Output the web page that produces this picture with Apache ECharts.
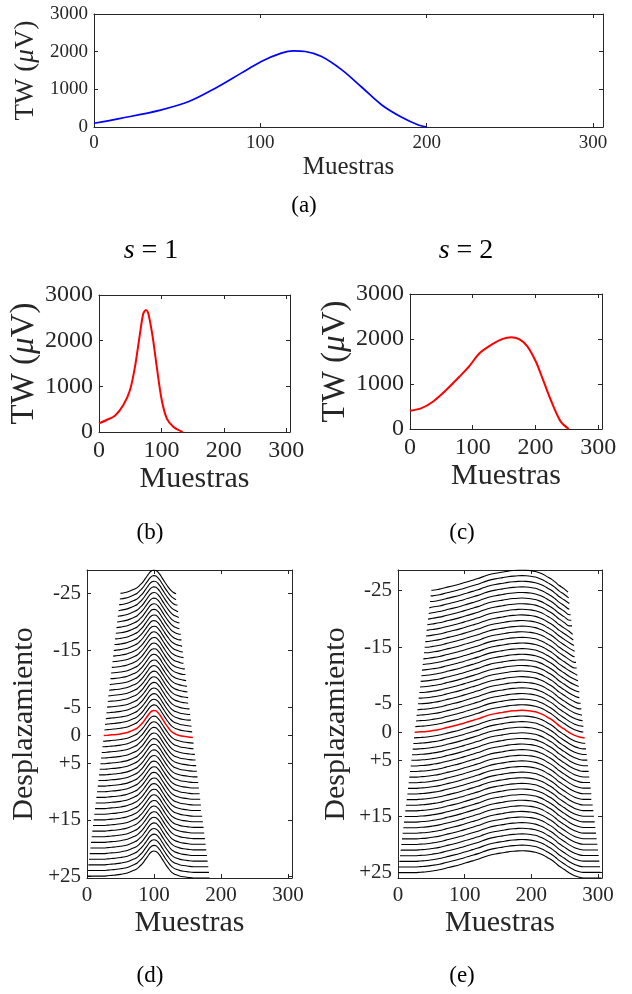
<!DOCTYPE html>
<html><head><meta charset="utf-8">
<script src="https://cdn.jsdelivr.net/npm/echarts@6/dist/echarts.min.js"></script>
<style>html,body{margin:0;padding:0;background:#fff}#c{width:632px;height:994px}</style>
</head><body><div id="c"></div>
<script>
// ---------- data ----------
// (a) original TW signal
const aX = [0,16,40,57,74,88.5,100.6,112.6,120,127,136.8,149,161,173,185,195,200];
const aY = [100,230,450,675,1055,1430,1740,1960,2023,2005,1872,1517,1055,585,257,53,0];
// (b) s = 1
const bX = [0,12.3,25.6,39,49.7,57.7,65.7,71,75.3,79,86,92.5,100.5,108.5,119,134];
const bY = [190,263,357,590,919,1430,2160,2597,2670,2597,2085,1430,700,300,116,0];
// (c) s = 2
const cX = [0,18.5,36.9,58,79,94.9,110.8,131.9,147.7,160.9,174,187.3,200.5,211,224.2,240,253];
const cY = [405,465,612,871,1166,1404,1685,1891,2002,2040,1995,1832,1499,1131,650,169,0];
// displacements (one trace per value)
const shifts = [-25,-24,-23,-22,-21,-20,-19,-18,-17,-16,-15,-14,-13,-12,-11,-10,-9,-8,-7,-6,-5,-4,-3,-2,-1,0,1,2,3,4,5,6,7,8,9,10,11,12,13,14,15,16,17,18,19,20,21,22,23,24,25];
// (d) trace profile (height above its level, in displacement units)
const dProfX = [0,10,20,25,31,37,44,50,57,64,70,75,79,83,87,91,94,97,100,103,106,109,112,115,118,121,125,129,133,138,144,151,159,170,183];
const dProfY = [0.34,0.34,0.34,0.34,0.40,0.47,0.55,0.64,0.79,1.06,1.37,1.67,2.12,2.61,3.26,3.92,4.41,4.71,4.80,4.73,4.42,3.98,3.40,2.85,2.30,1.80,1.20,0.80,0.56,0.36,0.21,0.09,0,0,0];
// (d) first / last sample of each trace
const dLeft  = [50,49,48,47,46,45,44,43,42,41,40,39,38,37,36,35,34,33,32,31,30,29,28,27,26,25,24,23,22,21,20,19,18,17,16,15,14,13,12,11,10,9,8,7,6,5,4,3,2,1,0];
const dRight = [133,134,135,136,137,138,139,140,141,142,143,144,145,146,147,148,149,150,151,152,153,154,155,156,157,158,159,160,161,162,163,164,165,166,167,168,169,170,171,172,173,174,175,176,177,178,179,180,181,182,183];
// (e) trace profile
const eProfX = [0,12,25,34,43,52,62,72,83,94,104,112,120,128,136,146,157,165,173,180,186,192,199,206,212,219,225,231,236,242,249,257,265,272,278,290,305];
const eProfY = [0.96,0.96,0.96,1.03,1.11,1.26,1.46,1.75,2.07,2.42,2.78,3.05,3.34,3.68,4.01,4.28,4.50,4.66,4.77,4.84,4.86,4.83,4.75,4.60,4.36,4.00,3.57,3.15,2.69,2.10,1.55,0.90,0.40,0.12,0,0,0];
const eLeft  = [50,49,48,47,46,45,44,43,42,41,40,39,38,37,36,35,34,33,32,31,30,29,28,27,26,25,24,23,22,21,20,19,18,17,16,15,14,13,12,11,10,9,8,7,6,5,4,3,2,1,0];
const eRight = [255,256,257,258,259,260,261,262,263,264,265,266,267,268,269,270,271,272,273,274,275,276,277,278,279,280,281,282,283,284,285,286,287,288,289,290,291,292,293,294,295,296,297,298,299,300,301,302,303,304,305];
// tick labels
const xTicks = [0,100,200,300];
const twTicks = [0,1000,2000,3000];
const dispTickShifts = [-25,-15,-5,0,5,15,25];
const dispTickLabels = ['-25','-15','-5','0','+5','+15','+25'];
const xMax = 306;

// ---------- build ----------
const FONT = 'Liberation Serif';
const AX = '#262626';
const pairs = (xs, ys) => xs.map((x,i)=>[x, ys[i]]);

function buildStack(profX, profY, lefts, rights){
  const near = x => { let bi=0; for(let i=1;i<profX.length;i++) if(Math.abs(profX[i]-x)<Math.abs(profX[bi]-x)) bi=i; return profY[bi]; };
  return shifts.map((d,k)=>{
    const L=lefts[k], R=rights[k];
    const pts=[[L, d-near(L)]];
    for(let i=0;i<profX.length;i++) if(profX[i]>L+0.5 && profX[i]<R-0.5) pts.push([profX[i], d-profY[i]]);
    pts.push([R, d-near(R)]);
    return pts;
  });
}
const dLines = buildStack(dProfX, dProfY, dLeft, dRight);
const eLines = buildStack(eProfX, eProfY, eLeft, eRight);
function extent(lines){ let mn=Infinity,mx=-Infinity; lines.forEach(l=>l.forEach(p=>{mn=Math.min(mn,p[1]);mx=Math.max(mx,p[1]);})); return [mn,mx]; }
const dExt = extent(dLines), eExt = extent(eLines);
const tickPos = lines => dispTickShifts.map(s => lines[shifts.indexOf(s)][0][1]);
const dTicks = tickPos(dLines), eTicks = tickPos(eLines);
const labelFor = ticks => v => { for(let i=0;i<ticks.length;i++) if(Math.abs(ticks[i]-v)<1e-6) return dispTickLabels[i]; return ''; };

const grids = [
  {left:94, top:14, width:509, height:113},
  {left:99, top:295, width:191, height:137},
  {left:410, top:294, width:192, height:135},
  {left:87, top:570, width:205, height:308},
  {left:398, top:570, width:204, height:308}
];
const cfg = [
  {tick:19, name:25, tw:27, xGap:28, yGap:41, lm:6},
  {tick:24, name:30, tw:33, xGap:31, yGap:50, lm:6},
  {tick:24, name:30, tw:33, xGap:32, yGap:43, lm:6},
  {tick:21, name:30, xGap:30, yGap:48, lm:6},
  {tick:21, name:30, xGap:30, yGap:47, lm:6}
];
const line = {show:true, onZero:false, lineStyle:{color:AX, width:1}};
const tickS = {show:true, inside:true, length:4, lineStyle:{color:AX, width:1}};

const xAxis = [], yAxis = [];
grids.forEach((g,gi)=>{
  const c = cfg[gi];
  xAxis.push({gridIndex:gi, type:'value', position:'bottom', min:0, max:xMax, interval:100,
    name:'Muestras', nameLocation:'middle', nameGap:c.xGap,
    nameTextStyle:{fontFamily:FONT, fontSize:c.name, color:AX},
    axisLine:line, axisTick:tickS, splitLine:{show:false},
    axisLabel:{fontFamily:FONT, fontSize:c.tick, color:AX, margin:c.lm+1,
      formatter: v => xTicks.indexOf(v)>=0 ? String(v) : ''}});
  xAxis.push({gridIndex:gi, type:'value', position:'top', min:0, max:xMax, interval:100,
    axisLine:line, axisTick:tickS, axisLabel:{show:false}, splitLine:{show:false}});
  if(gi<3){
    const tw = {r:{fontFamily:FONT, fontSize:c.tw, color:AX}, i:{fontFamily:FONT, fontSize:c.tw, color:AX, fontStyle:'italic'}};
    yAxis.push({gridIndex:gi, type:'value', position:'left', min:twTicks[0], max:twTicks[twTicks.length-1], interval:1000,
      name:'{r|TW (}{i|\u03bc}{r|V)}', nameLocation:'middle', nameGap:c.yGap,
      nameTextStyle:{fontFamily:FONT, fontSize:c.tw, color:AX, rich:tw},
      axisLine:line, axisTick:tickS, splitLine:{show:false},
      axisLabel:{fontFamily:FONT, fontSize:c.tick, color:AX, margin:c.lm,
        formatter: v => twTicks.indexOf(v)>=0 ? String(v) : ''}});
    yAxis.push({gridIndex:gi, type:'value', position:'right', min:twTicks[0], max:twTicks[twTicks.length-1], interval:1000,
      axisLine:line, axisTick:tickS, axisLabel:{show:false}, splitLine:{show:false}});
  } else {
    const ext = gi===3 ? dExt : eExt, tk = gi===3 ? dTicks : eTicks;
    yAxis.push({gridIndex:gi, type:'value', position:'left', inverse:true, min:ext[0], max:ext[1],
      name:'Desplazamiento', nameLocation:'middle', nameGap:c.yGap,
      nameTextStyle:{fontFamily:FONT, fontSize:c.name, color:AX},
      axisLine:line, axisTick:Object.assign({customValues:tk}, tickS), splitLine:{show:false},
      axisLabel:{fontFamily:FONT, fontSize:c.tick, color:AX, margin:c.lm, customValues:tk, formatter:labelFor(tk)}});
    yAxis.push({gridIndex:gi, type:'value', position:'right', inverse:true, min:ext[0], max:ext[1],
      axisLine:line, axisTick:Object.assign({customValues:tk}, tickS), axisLabel:{show:false}, splitLine:{show:false}});
  }
});

const series = [];
const mk = (data, gi, color, width, smooth) => ({type:'line', data, xAxisIndex:gi*2, yAxisIndex:gi*2,
  showSymbol:false, symbol:'none', smooth:smooth, silent:true, lineStyle:{color, width}, z: color==='#000000'?2:3});
series.push(mk(pairs(aX,aY), 0, '#0000ff', 1.7, 0.35));
series.push(mk(pairs(bX,bY), 1, '#ff0000', 2, 0.3));
series.push(mk(pairs(cX,cY), 2, '#ff0000', 2, 0.3));
dLines.forEach((l,k)=>series.push(mk(l, 3, shifts[k]===0?'#ff0000':'#000000', shifts[k]===0?1.5:1.1, 0.35)));
eLines.forEach((l,k)=>series.push(mk(l, 4, shifts[k]===0?'#ff0000':'#000000', shifts[k]===0?1.5:1.1, 0.35)));

const cap = (text, x, y, size) => ({type:'text', x, y, silent:true,
  style:{text, fontFamily:FONT, fontSize:size, fill:'#000', align:'center', verticalAlign:'middle', textAlign:'center', textVerticalAlign:'middle'}});
const sLab = (n, x, y) => ({type:'text', x, y, silent:true,
  style:{text:'{i|s} = '+n, fontFamily:FONT, fontSize:28, fill:'#000', align:'center', verticalAlign:'middle', textAlign:'center', textVerticalAlign:'middle',
    rich:{i:{fontFamily:FONT, fontSize:28, fontStyle:'italic', fill:'#000'}}}});

const chart = echarts.init(document.getElementById('c'), null, {renderer:'canvas'});
chart.setOption({
  animation:false,
  backgroundColor:'#ffffff',
  grid:grids, xAxis, yAxis, series,
  graphic:[
    cap('(a)', 304, 206, 23),
    sLab('1', 151, 251), sLab('2', 466, 251),
    cap('(b)', 150, 533, 23), cap('(c)', 462, 533, 23),
    cap('(d)', 150, 976, 23), cap('(e)', 462, 976, 23)
  ]
});
</script></body></html>
